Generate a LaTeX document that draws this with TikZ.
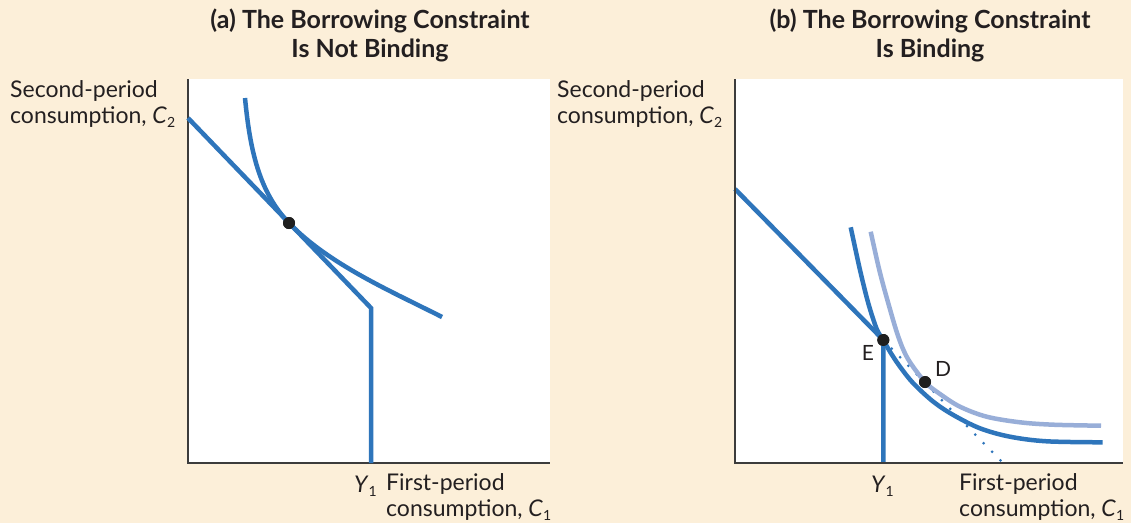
\documentclass[tikz,border=0pt]{standalone}
\usepackage{fontspec}
\setmainfont{Lato}
\definecolor{bgcream}{RGB}{252,239,217}
\definecolor{cblue}{RGB}{46,117,187}
\definecolor{lblue}{RGB}{152,174,216}
\definecolor{txt}{RGB}{35,31,32}
\definecolor{axisgray}{RGB}{60,60,60}
\newcommand{\sbs}[1]{\raisebox{-0.2em}{\fontsize{14}{14}\selectfont #1}}
\begin{document}
\begin{tikzpicture}[x=1pt,y=-1pt,
  title/.style={font=\fontsize{25}{29}\selectfont\bfseries, text=txt, align=center, anchor=base, inner sep=0pt},
  lbl/.style={font=\fontsize{23}{26}\selectfont, text=txt, align=left, anchor=base west, inner sep=0pt},
  ptlbl/.style={font=\fontsize{21}{21}\selectfont, text=txt, inner sep=0pt},
  axis/.style={draw=axisgray, line width=1.3pt},
  bline/.style={draw=cblue, line width=4.5pt},
  icdark/.style={draw=cblue, line width=4.5pt},
  iclight/.style={draw=lblue, line width=4.5pt},
  dotline/.style={draw=cblue, line width=3pt, line cap=round, dash pattern=on 0pt off 12pt},
  pt/.style={circle, fill=black!88, inner sep=0pt, minimum size=12pt}
]
\useasboundingbox (0,0) rectangle (1131,523);
\fill[bgcream] (0,0) rectangle (1131,523);
% plot areas
\fill[white] (188,79) rectangle (550,463);
\fill[white] (735,79) rectangle (1123,463);

% ---------- panel (a) ----------
\node[title] (ta) at (370,57) {(a) The Borrowing Constraint\\Is Not Binding};
\node[lbl] (ya) at (10,123) {Second-period\\consumption, \textit{C}\sbs{2}};
\node[lbl, anchor=base east] (Y1a) at (377,492) {\textit{Y}\sbs{1}};
\node[lbl] (xa) at (386,516) {First-period\\consumption, \textit{C}\sbs{1}};

\coordinate (aTop) at (188,79);
\coordinate (aO) at (188,463);
\coordinate (aR) at (550,463);
\draw[axis] (aTop) -- (aO) -- (aR);

\coordinate (aB0) at (188,118);
\coordinate (aK) at (371,308);
\coordinate (aY) at (371,463);
\draw[bline, line join=miter] (aB0) -- (aK) -- (aY);

\coordinate (aI0) at (245,98);
\coordinate (aI2) at (442,317);
\node[pt] (Ta) at (289,223) {};
\draw[icdark] (aI0) .. controls (250,150) and (259,192) .. (Ta.center)
  .. controls (329,264.6) and (392,291.6) .. (aI2);
\node[pt] at (Ta.center) {};

% ---------- panel (b) ----------
\node[title] (tb) at (930,57) {(b) The Borrowing Constraint\\Is Binding};
\node[lbl] (yb) at (557,123) {Second-period\\consumption, \textit{C}\sbs{2}};
\node[lbl, anchor=base east] (Y1b) at (894,492) {\textit{Y}\sbs{1}};
\node[lbl] (xb) at (959,516) {First-period\\consumption, \textit{C}\sbs{1}};

\coordinate (bTop) at (735,79);
\coordinate (bO) at (735,463);
\coordinate (bR) at (1123,463);

\coordinate (bB0) at (735,189);
\coordinate (bY) at (883.3,463);
\coordinate (bDend) at (1001,461);
\node[pt] (E) at (883.3,340) {};
\node[pt] (D) at (925,382) {};

\draw[dotline] (E.center) -- (bDend);
\draw[iclight] plot[smooth, tension=0.55] coordinates {(870.7,231.7) (879.3,270) (888.3,303.3) (898.3,336.7) (908,359) (925,382) (940,394) (960,406.7) (986.7,416.7) (1020,422.3) (1053.3,424.7) (1101,425.7)};
\draw[icdark] plot[smooth, tension=0.55] coordinates {(850.7,227.3) (860,270) (868.3,303.3) (876.7,329) (883.3,340) (890,351.7) (900,366.7) (913.3,383.3) (933.3,401.7) (953.3,415) (980,428.3) (1010,436.7) (1046.7,441.3) (1102.7,442.3)};
\draw[bline, line join=miter] (bB0) -- (E.center) -- (bY);
\draw[axis] (bTop) -- (bO) -- (bR);
\node[pt] at (E.center) {};
\node[pt] at (D.center) {};
\node[ptlbl] (Elbl) at (868,353) {E};
\node[ptlbl] (Dlbl) at (943,369) {D};
\end{tikzpicture}
\end{document}
